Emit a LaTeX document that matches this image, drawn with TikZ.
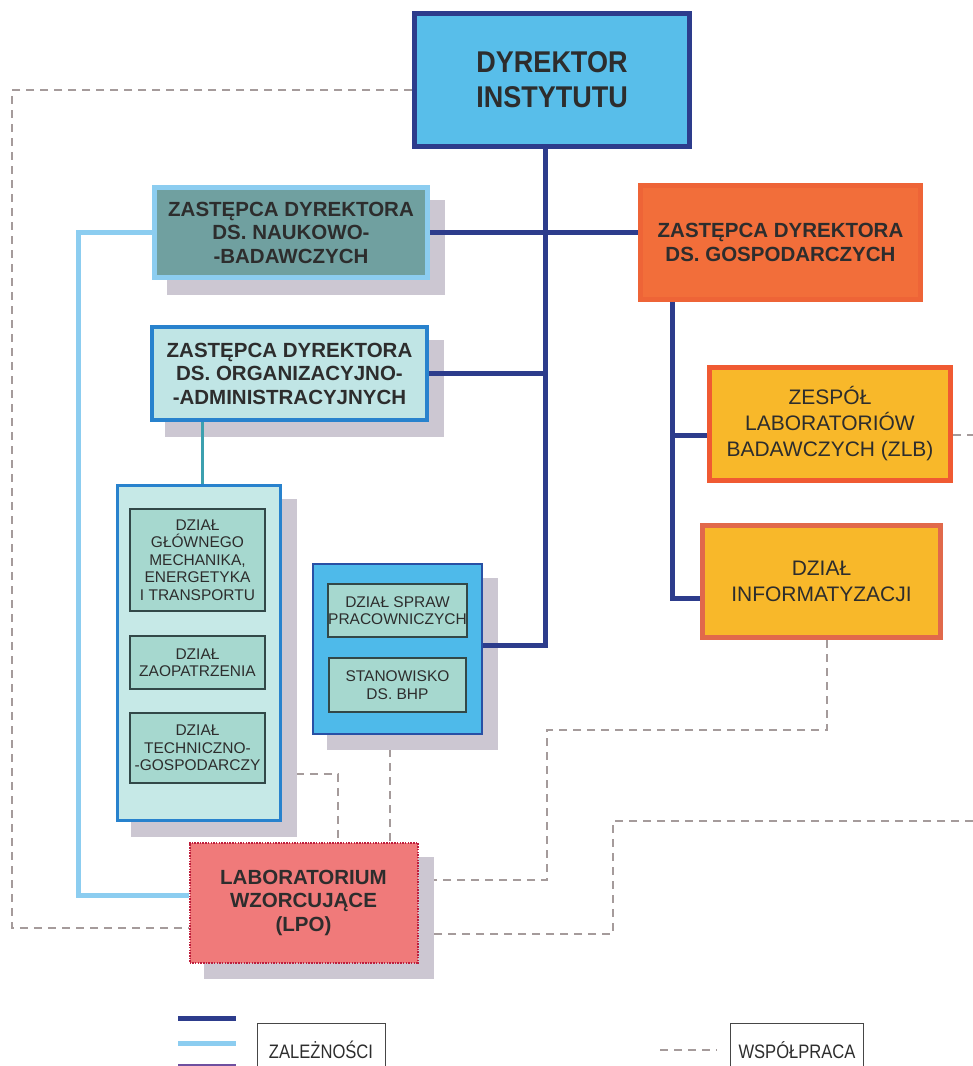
\documentclass[tikz,border=0pt]{standalone}
\usepackage{fontspec}
\setmainfont{Liberation Sans}
\newfontfamily\narrowsans[FakeStretch=0.9]{Liberation Sans}
\newfontfamily\legendsans[FakeStretch=0.85]{Liberation Sans}
\usetikzlibrary{backgrounds,calc}
\definecolor{txt}{RGB}{45,45,45}
\definecolor{depblue}{RGB}{45,60,140}
\definecolor{lightline}{RGB}{140,205,240}
\definecolor{tealline}{RGB}{60,160,175}
\definecolor{purpleline}{RGB}{110,80,160}
\definecolor{coopgray}{RGB}{165,155,155}
\definecolor{shadowgray}{RGB}{204,199,210}
\definecolor{dyrfill}{RGB}{88,190,234}
\definecolor{naukfill}{RGB}{112,160,160}
\definecolor{orgfill}{RGB}{192,229,229}
\definecolor{orgborder}{RGB}{40,130,205}
\definecolor{gospfill}{RGB}{242,110,58}
\definecolor{gospborder}{RGB}{238,100,55}
\definecolor{amber}{RGB}{248,184,42}
\definecolor{zlbborder}{RGB}{240,90,50}
\definecolor{infborder}{RGB}{225,105,75}
\definecolor{lgrpfill}{RGB}{198,233,231}
\definecolor{innerfill}{RGB}{166,216,207}
\definecolor{innerborder}{RGB}{50,72,72}
\definecolor{mgrpfill}{RGB}{78,186,234}
\definecolor{mgrpborder}{RGB}{40,80,165}
\definecolor{lpofill}{RGB}{240,122,122}
\definecolor{lpoborder}{RGB}{190,30,60}
\definecolor{legborder}{RGB}{70,70,70}
\tikzset{
  box/.style={rectangle, inner sep=0pt, align=center, text=txt},
  dep/.style={line width=5pt, color=depblue},
  deplight/.style={line width=5pt, color=lightline},
  depteal/.style={line width=3pt, color=tealline},
  coop/.style={line width=1.5pt, color=coopgray, dash pattern=on 8pt off 6pt},
  bigtext/.style={font=\fontsize{20.5}{23.5}\selectfont\bfseries},
  midtext/.style={font=\fontsize{21}{26}\selectfont},
  smalltext/.style={font=\fontsize{15.5}{17.5}\selectfont},
  innerbox/.style={box, draw=innerborder, line width=1.5pt, fill=innerfill, smalltext},
  legbox/.style={box, draw=legborder, line width=1pt, fill=white, font=\legendsans\fontsize{19.5}{22}\selectfont},
}
\begin{document}
\begin{tikzpicture}[x=1pt,y=-1pt]
\useasboundingbox (0,0) rectangle (973,1066);

% ---------- boxes ----------
\node[box, draw=depblue, line width=5pt, fill=dyrfill, minimum width=275pt, minimum height=133pt, font=\narrowsans\fontsize{30}{35}\selectfont\bfseries] (dyr) at (552,80) {DYREKTOR\\INSTYTUTU};

\node[box, bigtext, draw=lightline, line width=5pt, fill=naukfill, minimum width=273pt, minimum height=90pt] (nauk) at (291,232.5) {ZASTĘPCA DYREKTORA\\DS. NAUKOWO-\\-BADAWCZYCH};

\node[box, bigtext, draw=orgborder, line width=4.5pt, fill=orgfill, minimum width=275pt, minimum height=93pt] (org) at (289.5,373.5) {ZASTĘPCA DYREKTORA\\DS. ORGANIZACYJNO-\\-ADMINISTRACYJNYCH};

\node[box, bigtext, draw=gospborder, line width=5pt, fill=gospfill, minimum width=280pt, minimum height=114pt] (gosp) at (780.5,242.5) {ZASTĘPCA DYREKTORA\\DS. GOSPODARCZYCH};

\node[box, midtext, draw=zlbborder, line width=5pt, fill=amber, minimum width=241pt, minimum height=113pt] (zlb) at (830,424) {ZESPÓŁ\\LABORATORIÓW\\BADAWCZYCH (ZLB)};

\node[box, midtext, draw=infborder, line width=5pt, fill=amber, minimum width=238pt, minimum height=112pt] (inf) at (821.5,581.5) {DZIAŁ\\INFORMATYZACJI};

\node[box, draw=orgborder, line width=2.5pt, fill=lgrpfill, minimum width=163pt, minimum height=335pt] (lgrp) at (199,653) {};
\node[innerbox, minimum width=135pt, minimum height=102pt] (mech) at (197.5,560) {DZIAŁ\\GŁÓWNEGO\\MECHANIKA,\\ENERGETYKA\\I TRANSPORTU};
\node[innerbox, minimum width=135pt, minimum height=53pt] (zaop) at (197.5,662.5) {DZIAŁ\\ZAOPATRZENIA};
\node[innerbox, minimum width=135pt, minimum height=70pt] (tech) at (197.5,748) {DZIAŁ\\TECHNICZNO-\\-GOSPODARCZY};

\node[box, draw=mgrpborder, line width=2.5pt, fill=mgrpfill, minimum width=169pt, minimum height=170pt] (mgrp) at (397.5,649) {};
\node[innerbox, minimum width=137pt, minimum height=53pt] (spraw) at (397.5,610.5) {DZIAŁ SPRAW\\PRACOWNICZYCH};
\node[innerbox, minimum width=137pt, minimum height=54pt] (bhp) at (397.5,685) {STANOWISKO\\DS. BHP};

\node[box, bigtext, draw=lpoborder, line width=2pt, dash pattern=on 1.5pt off 1.2pt, fill=lpofill, minimum width=228pt, minimum height=120pt] (lpo) at (303.5,902.5) {LABORATORIUM\\WZORCUJĄCE\\(LPO)};

% ---------- legend ----------
\node[legbox, minimum width=128pt, minimum height=54pt] (legA) at (321,1050) {ZALEŻNOŚCI};
\node[legbox, minimum width=133pt, minimum height=54pt] (legB) at (797,1050) {WSPÓŁPRACA};
\coordinate (l1a) at (178,1018); \coordinate (l1b) at (236,1018);
\coordinate (l2a) at (178,1043); \coordinate (l2b) at (236,1043);
\coordinate (l3a) at (178,1066); \coordinate (l3b) at (236,1066);
\coordinate (l4a) at (660,1050); \coordinate (l4b) at (717,1050);
\draw[dep] (l1a) -- (l1b);
\draw[deplight] (l2a) -- (l2b);
\draw[line width=5pt, color=purpleline] (l3a) -- (l3b);
\draw[coop] (l4a) -- (l4b);

% ---------- solid connectors ----------
\coordinate (j1) at (545,645);
\draw[dep] (dyr.south -| j1) -- (j1) -- (mgrp.east |- j1);
\draw[dep] (nauk.east) -- (gosp.west |- nauk.east);
\draw[dep] (org.east) -- (org.east -| j1);
\coordinate (g1) at (672,435);
\coordinate (g2) at (672,598);
\draw[dep] (gosp.south -| g1) -- (g2) -- (inf.west |- g2);
\draw[dep] (g1) -- (zlb.west |- g1);
\coordinate (b1) at (78,232.5);
\coordinate (b2) at (78,895);
\draw[deplight] (nauk.west) -- (b1) -- (b2) -- (lpo.west |- b2);
\coordinate (t1) at (202,400);
\draw[depteal] (org.south -| t1) -- (lgrp.north -| t1);

% ---------- background: dashed lines and shadows ----------
\begin{pgfonlayer}{background}
\fill[white] (0,0) rectangle (973,1066);
\coordinate (c1) at (12,90);
\coordinate (c2) at (12,928);
\draw[coop] (dyr.west |- c1) -- (c1) -- (c2) -- (lpo.west |- c2);
\coordinate (e1) at (973,435);
\draw[coop] (zlb.east |- e1) -- (e1);
\coordinate (e2) at (973,821);
\coordinate (e3) at (613,821);
\coordinate (e4) at (613,934);
\draw[coop] (e2) -- (e3) -- (e4) -- (lpo.east |- e4);
\coordinate (d1) at (827,730);
\coordinate (d2) at (547,730);
\coordinate (d3) at (547,880);
\draw[coop] (inf.south -| d1) -- (d1) -- (d2) -- (d3) -- (lpo.east |- d3);
\coordinate (f1) at (338,774);
\draw[coop] (lgrp.east |- f1) -- (f1) -- (lpo.north -| f1);
\coordinate (h1) at (390,800);
\draw[coop] (mgrp.south -| h1) -- (lpo.north -| h1);
\foreach \n in {nauk,org,lgrp,mgrp,lpo}
  \fill[shadowgray] ([shift={(15,15)}]\n.south west) rectangle ([shift={(15,15)}]\n.north east);
\end{pgfonlayer}
\end{tikzpicture}
\end{document}
